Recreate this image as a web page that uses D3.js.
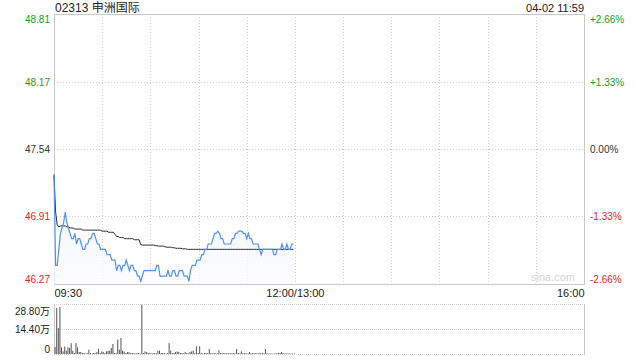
<!DOCTYPE html>
<html>
<head>
<meta charset="UTF-8">
<script src="https://d3js.org/d3.v7.min.js"></script>
<style>
  body { margin: 0; background: #fff; }
  text { font-family: "Liberation Sans", Arial, "Noto Sans CJK SC", sans-serif; }
</style>
</head>
<body>
<div id="chart"></div>
<script>
// ---- data ----
var title = "02313 申洲国际";
var stamp = "04-02 11:59";
var prevClose = 47.54;
var priceTicks = ["48.81", "48.17", "47.54", "46.91", "46.27"];
var pctTicks = ["+2.66%", "+1.33%", "0.00%", "-1.33%", "-2.66%"];
var timeTicks = ["09:30", "12:00/13:00", "16:00"];
var timeTickMin = [0, 150, 330];
var volTicks = ["28.80万", "14.40万", "0"];
var volTickVals = [288000, 144000, 0];

// one value per minute from 09:30 to 11:59
var price = [
  47.30, 46.45, 46.45, 46.60, 46.75, 46.80, 46.85, 46.95, 46.85, 46.80,
  46.75, 46.70, 46.70, 46.75, 46.65, 46.70, 46.70, 46.65, 46.60, 46.60,
  46.65, 46.65, 46.70, 46.70, 46.75, 46.75, 46.70, 46.65, 46.65, 46.60,
  46.60, 46.60, 46.60, 46.55, 46.55, 46.55, 46.50, 46.50, 46.50, 46.40,
  46.45, 46.45, 46.40, 46.45, 46.45, 46.50, 46.45, 46.40, 46.45, 46.45,
  46.40, 46.40, 46.35, 46.35, 46.30, 46.35, 46.40, 46.40, 46.40, 46.40,
  46.40, 46.40, 46.40, 46.40, 46.45, 46.45, 46.35, 46.35, 46.35, 46.35,
  46.35, 46.40, 46.35, 46.35, 46.40, 46.40, 46.35, 46.35, 46.40, 46.40,
  46.40, 46.35, 46.35, 46.35, 46.30, 46.40, 46.45, 46.45, 46.45, 46.50,
  46.50, 46.50, 46.55, 46.55, 46.60, 46.60, 46.65, 46.65, 46.65, 46.70,
  46.75, 46.75, 46.77, 46.75, 46.70, 46.70, 46.65, 46.65, 46.65, 46.65,
  46.65, 46.70, 46.70, 46.75, 46.75, 46.77, 46.77, 46.77, 46.75, 46.75,
  46.70, 46.75, 46.70, 46.70, 46.65, 46.65, 46.65, 46.65, 46.60, 46.55,
  46.60, 46.60, 46.60, 46.60, 46.60, 46.60, 46.60, 46.55, 46.55, 46.60,
  46.60, 46.60, 46.65, 46.60, 46.60, 46.65, 46.60, 46.60, 46.65, 46.65
];
var avgPrice = [
  47.30, 46.95, 46.83, 46.81, 46.82, 46.82, 46.82, 46.82, 46.81, 46.81,
  46.80, 46.80, 46.80, 46.79, 46.79, 46.79, 46.79, 46.79, 46.78, 46.78,
  46.78, 46.78, 46.78, 46.78, 46.78, 46.78, 46.78, 46.78, 46.78, 46.78,
  46.77, 46.77, 46.77, 46.77, 46.76, 46.76, 46.76, 46.76, 46.74, 46.72,
  46.72, 46.71, 46.71, 46.71, 46.70, 46.70, 46.70, 46.70, 46.70, 46.70,
  46.69, 46.69, 46.69, 46.69, 46.645, 46.64, 46.64, 46.64, 46.64, 46.64,
  46.64, 46.64, 46.64, 46.635, 46.635, 46.63, 46.63, 46.63, 46.63, 46.625,
  46.62, 46.62, 46.62, 46.62, 46.615, 46.615, 46.61, 46.61, 46.61, 46.61,
  46.605, 46.605, 46.605, 46.60, 46.60, 46.60, 46.60, 46.60, 46.60, 46.60,
  46.60, 46.60, 46.60, 46.60, 46.60, 46.60, 46.60, 46.60, 46.60, 46.60,
  46.60, 46.60, 46.60, 46.60, 46.60, 46.60, 46.60, 46.60, 46.60, 46.60,
  46.60, 46.60, 46.60, 46.60, 46.60, 46.60, 46.60, 46.60, 46.60, 46.60,
  46.60, 46.60, 46.60, 46.60, 46.60, 46.60, 46.60, 46.60, 46.60, 46.60,
  46.60, 46.60, 46.60, 46.60, 46.60, 46.60, 46.60, 46.60, 46.60, 46.60,
  46.60, 46.60, 46.60, 46.60, 46.60, 46.60, 46.60, 46.60, 46.60, 46.60
];
var volume = [
  40000, 265000, 150000, 270000, 38600, 15000, 44000, 19000, 38600, 34500,
  63000, 19000, 6000, 63000, 38600, 11500, 11500, 5000, 5800, 3000,
  5000, 25000, 5800, 3000, 5800, 5000, 11500, 30000, 5800, 15000,
  11500, 5000, 15000, 19000, 19000, 34500, 57600, 5800, 4000, 82500,
  25000, 92000, 19000, 15000, 5000, 11500, 11500, 5000, 5800, 5800,
  3000, 5800, 5800, 3000, 284000, 5800, 15000, 11500, 5000, 5800,
  3000, 5800, 5800, 5000, 19000, 19000, 5800, 5800, 5800, 3000,
  5000, 63000, 20000, 5800, 5800, 11500, 15000, 11500, 5800, 5800,
  4000, 11500, 5000, 4000, 11500, 15000, 19000, 5800, 44000, 5800,
  44000, 5800, 3000, 5800, 5800, 4000, 29000, 5800, 3000, 5800,
  4000, 4000, 21000, 5800, 4000, 5800, 4000, 5800, 4000, 5800,
  4000, 5800, 4000, 29000, 5800, 4000, 15000, 4000, 5800, 4000,
  3000, 11500, 4000, 5800, 4000, 5800, 3000, 5800, 4000, 5800,
  4000, 29000, 4000, 3000, 3000, 3000, 2000, 3000, 3000, 5800,
  5800, 11500, 5800, 3000, 3000, 3000, 3000, 3000, 3000, 3000
];

// ---- layout ----
var width = 640, height = 360;
var left = 54, right = 584;
var pTop = 14, pBottom = 284;
var vTop = 304, vBottom = 354;
var green = "#1a9e1a", red = "#e8251f", grid = "#cfcfcf", frame = "#c8c8c8";

var svg = d3.select("#chart").append("svg")
  .attr("width", width).attr("height", height);

var x = d3.scaleLinear().domain([0, 330]).range([left, right]);
var y = d3.scaleLinear()
  .domain([prevClose * (1 - 0.0266), prevClose * (1 + 0.0266)])
  .range([pBottom, pTop]);
var yv = d3.scaleLinear().domain([0, 288000]).range([vBottom, vTop]);

function tickColor(i) { return i < 2 ? green : (i > 2 ? red : "#333"); }

// title and time stamp
svg.append("text").attr("x", left + 1).attr("y", 12)
  .attr("font-size", 12).attr("fill", "#222").text(title);
svg.append("text").attr("x", right).attr("y", 12)
  .attr("text-anchor", "end").attr("font-size", 11).attr("fill", "#222").text(stamp);

// grid in price panel
var halfHours = d3.range(1, 11);
svg.append("g").selectAll("line").data(halfHours).enter().append("line")
  .attr("x1", function (d) { return Math.round(x(d * 30)) + 0.5; })
  .attr("x2", function (d) { return Math.round(x(d * 30)) + 0.5; })
  .attr("y1", pTop).attr("y2", pBottom)
  .attr("stroke", grid).attr("stroke-dasharray", "1,2");
svg.append("g").selectAll("line").data(priceTicks.slice(1, 4)).enter().append("line")
  .attr("x1", left).attr("x2", right)
  .attr("y1", function (d) { return Math.round(y(+d)) + 0.5; })
  .attr("y2", function (d) { return Math.round(y(+d)) + 0.5; })
  .attr("stroke", grid).attr("stroke-dasharray", "1,2");
svg.append("rect").attr("x", left + 0.5).attr("y", pTop + 0.5)
  .attr("width", right - left).attr("height", pBottom - pTop)
  .attr("fill", "none").attr("stroke", frame);

// watermark
svg.append("text").attr("x", 575).attr("y", 281).attr("text-anchor", "end")
  .attr("font-size", 11).attr("fill", "#d4d4d4").text("sina.com");

// area + price line
var grad = svg.append("defs").append("linearGradient").attr("id", "fillGrad")
  .attr("x1", 0).attr("y1", 0).attr("x2", 0).attr("y2", 1);
grad.append("stop").attr("offset", "0%").attr("stop-color", "#e8f0fd");
grad.append("stop").attr("offset", "100%").attr("stop-color", "#fafcff");

var area = d3.area()
  .x(function (d, i) { return x(i); })
  .y0(pBottom)
  .y1(function (d) { return y(d); });
svg.append("path").datum(price).attr("d", area)
  .attr("fill", "url(#fillGrad)").attr("opacity", 0.7);

var line = d3.line()
  .x(function (d, i) { return x(i); })
  .y(function (d) { return y(d); });
svg.append("path").datum(avgPrice).attr("d", line)
  .attr("fill", "none").attr("stroke", "#2a2a2a").attr("stroke-width", 1);
svg.append("path").datum(price).attr("d", line)
  .attr("fill", "none").attr("stroke", "#5391f0").attr("stroke-width", 1.2);

// left price axis
var axL = svg.append("g").attr("transform", "translate(" + (left - 4) + ",0)")
  .call(d3.axisLeft(y).tickValues(priceTicks.map(Number)).tickSize(0).tickPadding(0)
    .tickFormat(function (d, i) { return priceTicks[i]; }));
axL.select(".domain").remove();
axL.selectAll("text")
  .attr("font-size", 10)
  .attr("font-family", "Liberation Sans, Arial, sans-serif")
  .attr("fill", function (d, i) { return tickColor(i); })
  .attr("dy", function (d, i) { return i === 0 ? "0.95em" : (i === 4 ? "-0.25em" : "0.35em"); });

// right percent axis
var axR = svg.append("g").attr("transform", "translate(" + (right + 6) + ",0)")
  .call(d3.axisRight(y).tickValues(priceTicks.map(Number)).tickSize(0).tickPadding(0)
    .tickFormat(function (d, i) { return pctTicks[i]; }));
axR.select(".domain").remove();
axR.selectAll("text")
  .attr("font-size", 10)
  .attr("font-family", "Liberation Sans, Arial, sans-serif")
  .attr("fill", function (d, i) { return tickColor(i); })
  .attr("dy", function (d, i) { return i === 0 ? "0.95em" : (i === 4 ? "-0.25em" : "0.35em"); });

// time axis
var axT = svg.append("g").attr("transform", "translate(0," + (pBottom + 1) + ")")
  .call(d3.axisBottom(x).tickValues(timeTickMin).tickSize(0).tickPadding(0)
    .tickFormat(function (d, i) { return timeTicks[i]; }));
axT.select(".domain").remove();
axT.selectAll("text")
  .attr("font-size", 11)
  .attr("font-family", "Liberation Sans, Arial, sans-serif")
  .attr("fill", "#222")
  .attr("dy", "1.05em")
  .attr("text-anchor", function (d, i) { return i === 0 ? "start" : (i === 2 ? "end" : "middle"); });

// volume panel
svg.append("g").selectAll("line").data(volTickVals).enter().append("line")
  .attr("x1", left).attr("x2", right)
  .attr("y1", function (d) { return Math.round(yv(d)) + 0.5; })
  .attr("y2", function (d) { return Math.round(yv(d)) + 0.5; })
  .attr("stroke", grid).attr("stroke-dasharray", "1,1");
[left, right].forEach(function (px) {
  svg.append("line").attr("x1", px + 0.5).attr("x2", px + 0.5)
    .attr("y1", vTop).attr("y2", vBottom + 1).attr("stroke", frame);
});

svg.append("g").selectAll("rect").data(volume).enter().append("rect")
  .attr("x", function (d, i) { return x(i) + 0.6; })
  .attr("width", 1)
  .attr("y", function (d) { return yv(d); })
  .attr("height", function (d) { return vBottom - yv(d); })
  .attr("fill", "#555");

var axV = svg.append("g").attr("transform", "translate(" + (left - 4) + ",0)")
  .call(d3.axisLeft(yv).tickValues(volTickVals).tickSize(0).tickPadding(0)
    .tickFormat(function (d, i) { return volTicks[i]; }));
axV.select(".domain").remove();
axV.selectAll("text")
  .attr("font-size", 10)
  .attr("font-family", "Liberation Sans, Arial, 'Noto Sans CJK SC', sans-serif")
  .attr("fill", "#222")
  .attr("dy", function (d, i) { return i === 0 ? "1.05em" : (i === 2 ? "-0.2em" : "0.35em"); });
</script>
</body>
</html>
